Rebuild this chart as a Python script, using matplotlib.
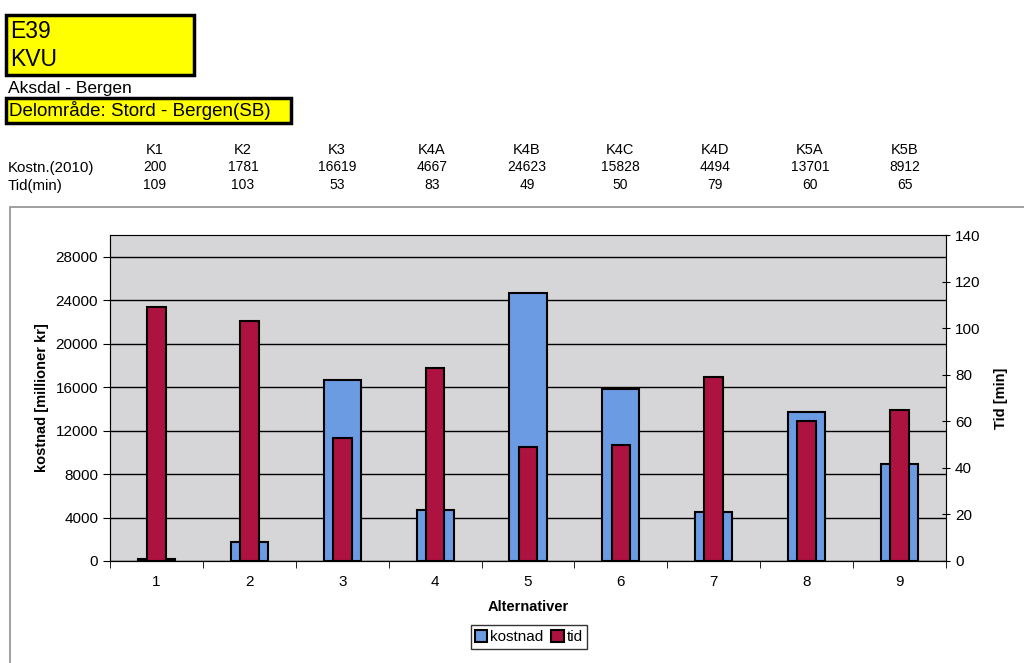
import numpy as np
import matplotlib
matplotlib.use("Agg")
import matplotlib.pyplot as plt
from matplotlib.patches import Rectangle, Patch

plt.rcParams['font.family'] = ['Liberation Sans', 'DejaVu Sans']

# data
alt_codes = ['K1', 'K2', 'K3', 'K4A', 'K4B', 'K4C', 'K4D', 'K5A', 'K5B']
alternativer = [1, 2, 3, 4, 5, 6, 7, 8, 9]
kostnad = [200, 1781, 16619, 4667, 24623, 15828, 4494, 13701, 8912]
tid = [109, 103, 53, 83, 49, 50, 79, 60, 65]
kost_ticks = [0, 4000, 8000, 12000, 16000, 20000, 24000, 28000]
tid_ticks = [0, 20, 40, 60, 80, 100, 120, 140]

blue = '#6a9be3'
red = '#ad1240'
W, H = 1024, 663

fig = plt.figure(figsize=(W / 100, H / 100), dpi=100)

def fx(px):
    return px / W

def fy(py):
    return 1 - py / H

# header boxes
fig.add_artist(Rectangle((fx(6), fy(75)), fx(188), 60 / H, transform=fig.transFigure,
                         facecolor='#ffff00', edgecolor='black', lw=2.5))
fig.text(fx(10), fy(32), 'E39', fontsize=16.5, va='center')
fig.text(fx(10), fy(60), 'KVU', fontsize=16.5, va='center')
fig.text(fx(8), fy(88), 'Aksdal - Bergen', fontsize=12.5, va='center')
fig.add_artist(Rectangle((fx(6), fy(123)), fx(285), 25 / H, transform=fig.transFigure,
                         facecolor='#ffff00', edgecolor='black', lw=2.5))
fig.text(fx(9), fy(110), 'Delområde: Stord - Bergen(SB)', fontsize=13.5, va='center')

# small table above the chart
col_x = [155, 243, 337, 432, 527, 620, 715, 810, 905]
fig.text(fx(8), fy(168), 'Kostn.(2010)', fontsize=10.8, va='center')
fig.text(fx(8), fy(186), 'Tid(min)', fontsize=10.8, va='center')
for x, c, k, t in zip(col_x, alt_codes, kostnad, tid):
    fig.text(fx(x), fy(150), c, fontsize=10.5, ha='center', va='center')
    fig.text(fx(x), fy(167), str(k), fontsize=10, ha='center', va='center')
    fig.text(fx(x), fy(185), str(t), fontsize=10, ha='center', va='center')

# chart frame
fig.add_artist(Rectangle((fx(10), fy(700)), fx(1030), 493 / H, transform=fig.transFigure,
                         facecolor='none', edgecolor='#909090', lw=1.2))

ax = fig.add_axes([fx(110), fy(561), fx(836), 326 / H])
ax.set_facecolor('#d6d6d8')
ax.bar(alternativer, kostnad, width=0.4, color=blue, edgecolor='black', lw=1.5, zorder=2)
ax.set_ylim(0, 30000)
ax.set_yticks(kost_ticks)
ax.set_xlim(0.5, 9.5)
ax.set_xticks(alternativer)
ax.set_xticks(np.arange(0.5, 10, 1), minor=True)
ax.tick_params(axis='x', which='major', length=0, labelsize=11, pad=10)
ax.tick_params(axis='x', which='minor', length=5, direction='out')
ax.tick_params(axis='y', labelsize=11, length=5, direction='out')
ax.yaxis.grid(True, color='black', lw=1)
ax.set_axisbelow(True)
for s in ['top', 'right']:
    ax.spines[s].set_color('#888888')
ax.spines['left'].set_color('#555555')
ax.spines['bottom'].set_color('black')
ax.set_ylabel('kostnad [millioner kr]', fontsize=10.5, fontweight='bold', labelpad=5)
ax.set_xlabel('Alternativer', fontsize=10.5, fontweight='bold', labelpad=8)

ax2 = ax.twinx()
ax2.bar(alternativer, tid, width=0.2, color=red, edgecolor='black', lw=1.5, zorder=3)
ax2.set_ylim(0, 140)
ax2.set_yticks(tid_ticks)
ax2.tick_params(axis='y', labelsize=11, length=6, direction='inout')
ax2.spines['right'].set_color('black')
ax2.set_ylabel('Tid [min]', fontsize=10.5, fontweight='bold', labelpad=10)

handles = [Patch(facecolor=blue, edgecolor='black', lw=1.5, label='kostnad'),
           Patch(facecolor=red, edgecolor='black', lw=1.5, label='tid')]
leg = fig.legend(handles=handles, loc='center', bbox_to_anchor=(fx(529), fy(637)), ncol=2,
                 fontsize=11, frameon=True, fancybox=False, handlelength=0.8,
                 handleheight=0.8, handletextpad=0.2, columnspacing=0.5, borderpad=0.3)
leg.get_frame().set_edgecolor('black')
leg.get_frame().set_linewidth(1)

fig.savefig('out.png', dpi=100)
